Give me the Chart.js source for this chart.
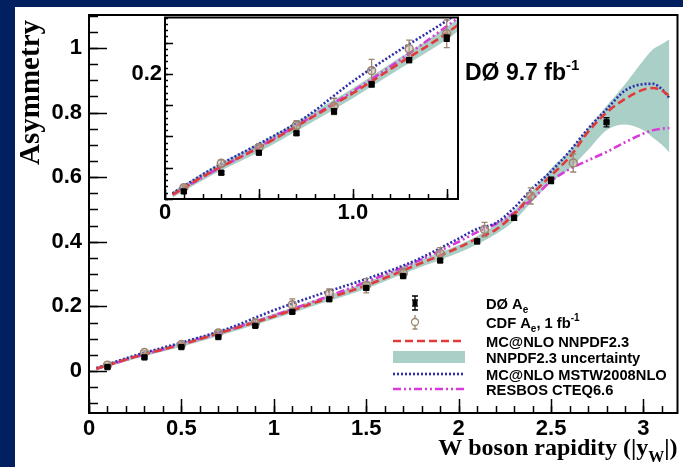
<!DOCTYPE html>
<html>
<head>
<meta charset="utf-8">
<script src="https://cdn.jsdelivr.net/npm/chart.js@4.4.0/dist/chart.umd.min.js"></script>
<style>
  body { margin: 0; background: #02205f; width: 683px; height: 467px; overflow: hidden; }
  #panel { position: absolute; left: 15px; top: 7px; width: 668px; height: 460px; background: #fff; }
  #main { position: absolute; left: 0; top: 0; }
  #inset { position: absolute; left: 95px; top: 5px; }
</style>
</head>
<body>
<div id="panel">
  <canvas id="main" width="668" height="460"></canvas>
  <canvas id="inset" width="355" height="212"></canvas>
</div>
<script>
// D0 electron asymmetry, bin centres in |y_W|
const d0X   = [0.1, 0.3, 0.5, 0.7, 0.9, 1.1, 1.3, 1.5, 1.7, 1.9, 2.1, 2.3, 2.5, 2.8];
const d0Y   = [0.012, 0.042, 0.074, 0.105, 0.140, 0.183, 0.222, 0.257, 0.294, 0.342, 0.401, 0.474, 0.590, 0.770];
const d0Err = [0.003, 0.003, 0.003, 0.003, 0.004, 0.004, 0.004, 0.005, 0.005, 0.006, 0.007, 0.008, 0.010, 0.014];

// CDF 1 fb-1
const cdfX   = [0.1, 0.3, 0.5, 0.7, 0.9, 1.1, 1.3, 1.5, 1.7, 1.9, 2.14, 2.39, 2.62];
const cdfY   = [0.018, 0.057, 0.082, 0.118, 0.148, 0.205, 0.240, 0.264, 0.302, 0.364, 0.438, 0.542, 0.644];
const cdfErr = [0.004, 0.005, 0.006, 0.007, 0.013, 0.018, 0.014, 0.022, 0.016, 0.018, 0.022, 0.025, 0.028];

// theory predictions
const curveX = [0.04, 0.25, 0.5, 0.75, 1.0, 1.25, 1.5, 1.75, 2.0, 2.1, 2.2, 2.3, 2.4, 2.5, 2.6, 2.7, 2.8, 2.9, 3.0, 3.05, 3.1, 3.14];
const nnpdf  = [0.007, 0.044, 0.082, 0.125, 0.169, 0.217, 0.265, 0.323, 0.382, 0.410, 0.437, 0.485, 0.549, 0.605, 0.662, 0.740, 0.800, 0.842, 0.871, 0.876, 0.868, 0.852];
const bandHi = [0.012, 0.050, 0.089, 0.132, 0.177, 0.226, 0.275, 0.334, 0.390, 0.418, 0.452, 0.497, 0.558, 0.627, 0.682, 0.752, 0.820, 0.888, 0.962, 0.995, 1.012, 1.027];
const bandLo = [0.002, 0.038, 0.075, 0.117, 0.161, 0.208, 0.255, 0.312, 0.366, 0.392, 0.423, 0.465, 0.526, 0.584, 0.626, 0.684, 0.745, 0.763, 0.745, 0.723, 0.700, 0.676];
const mstw   = [0.009, 0.048, 0.088, 0.131, 0.188, 0.238, 0.285, 0.338, 0.410, 0.440, 0.458, 0.505, 0.566, 0.618, 0.680, 0.750, 0.810, 0.868, 0.888, 0.889, 0.872, 0.845];
const resbos = [0.007, 0.043, 0.083, 0.126, 0.172, 0.222, 0.276, 0.333, 0.400, 0.430, 0.455, 0.490, 0.533, 0.588, 0.625, 0.652, 0.678, 0.708, 0.735, 0.745, 0.750, 0.752];

// axis labels
const xTicks = [0, 0.5, 1, 1.5, 2, 2.5, 3];
const xTickLabels = ['0', '0.5', '1', '1.5', '2', '2.5', '3'];
const yTicks = [0, 0.2, 0.4, 0.6, 0.8, 1];
const yTickLabels = ['0', '0.2', '0.4', '0.6', '0.8', '1'];
const insetXTicks = [0, 1.0];
const insetXLabels = ['0', '1.0'];
const insetYTicks = [0.2];
const insetYLabels = ['0.2'];

const BAND = '#a9cfc6', RED = '#e23a3a', BLUE = '#2d2dab', MAGENTA = '#d83cd8', CDF = '#9c8570';
const tickFont = { family: 'Liberation Sans', size: 22, weight: 'bold' };

function pts(xs, ys) { return xs.map((x, i) => ({ x: x, y: ys[i] })); }

function curve(ys, color, dash, order) {
  return { data: pts(curveX, ys), showLine: true, pointRadius: 0, borderColor: color, borderWidth: 2.6,
           borderDash: dash, cubicInterpolationMode: 'monotone', fill: false, order: order };
}

function datasets() {
  return [
    { data: pts(curveX, bandHi), showLine: true, pointRadius: 0, borderWidth: 0, fill: '+1',
      backgroundColor: BAND, cubicInterpolationMode: 'monotone', order: 10 },
    { data: pts(curveX, bandLo), showLine: true, pointRadius: 0, borderWidth: 0, fill: false,
      cubicInterpolationMode: 'monotone', order: 10 },
    curve(resbos, MAGENTA, [8, 3, 2, 3, 2, 3], 5),
    curve(mstw, BLUE, [2, 2], 4),
    curve(nnpdf, RED, [8, 4], 3),
    { data: pts(cdfX, cdfY), errors: cdfErr, errColor: CDF, pointStyle: 'circle', pointRadius: 4,
      borderColor: CDF, backgroundColor: 'rgba(190,175,160,0.45)', borderWidth: 1.5, order: 2 },
    { data: pts(d0X, d0Y), errors: d0Err, errColor: '#000', pointStyle: 'rect', pointRadius: 3.7,
      borderColor: '#000', backgroundColor: '#000', borderWidth: 1, order: 1 }
  ];
}

// vertical error bars with caps, drawn under the markers
const errorBars = {
  id: 'errorBars',
  beforeDatasetDraw(chart, args) {
    const ds = chart.data.datasets[args.index];
    if (!ds.errors) return;
    const { ctx, chartArea: a } = chart;
    const ys = chart.scales.y;
    ctx.save();
    ctx.beginPath(); ctx.rect(a.left, a.top, a.right - a.left, a.bottom - a.top); ctx.clip();
    ctx.strokeStyle = ds.errColor; ctx.lineWidth = 1.3;
    args.meta.data.forEach((pt, i) => {
      const v = ds.data[i].y, e = ds.errors[i];
      const t = ys.getPixelForValue(v + e), b = ys.getPixelForValue(v - e);
      ctx.beginPath();
      ctx.moveTo(pt.x, t); ctx.lineTo(pt.x, b);
      ctx.moveTo(pt.x - 3, t); ctx.lineTo(pt.x + 3, t);
      ctx.moveTo(pt.x - 3, b); ctx.lineTo(pt.x + 3, b);
      ctx.stroke();
    });
    ctx.restore();
  }
};

function drawTicks(ctx, scale, a, step, len) {
  const n = Math.floor((scale.max - scale.min) / step + 1e-6) + 2;
  const start = Math.ceil(scale.min / step - 1e-6) * step;
  for (let i = 0; i < n; i++) {
    const v = start + i * step;
    if (v > scale.max + 1e-9) break;
    const p = Math.round(scale.getPixelForValue(v)) + 0.5;
    ctx.beginPath();
    if (scale.axis === 'x') { ctx.moveTo(p, a.bottom); ctx.lineTo(p, a.bottom - len); }
    else { ctx.moveTo(a.left, p); ctx.lineTo(a.left + len, p); }
    ctx.stroke();
  }
}

// box around the plot and tick marks pointing inwards
const frame = {
  id: 'frame',
  beforeDraw(chart) {
    const { ctx, chartArea: a } = chart;
    ctx.save(); ctx.fillStyle = '#fff';
    ctx.fillRect(a.left, a.top, a.right - a.left, a.bottom - a.top);
    ctx.restore();
  },
  afterDraw(chart, args, opts) {
    const { ctx, chartArea: a, scales } = chart;
    ctx.save();
    ctx.strokeStyle = '#000';
    ctx.lineWidth = 1.5;
    opts.ticks.forEach(t => drawTicks(ctx, scales[t.axis], a, t.step, t.len));
    ctx.lineWidth = 2;
    ctx.strokeRect(a.left, a.top, a.right - a.left, a.bottom - a.top);
    ctx.restore();
  }
};

function richText(ctx, x, y, parts, size, family, align) {
  const fontOf = p => 'bold ' + (p.sub || p.sup ? Math.round(size * 0.65) : size) + 'px ' + family;
  let w = 0;
  parts.forEach(p => { ctx.font = fontOf(p); w += ctx.measureText(p.t).width; });
  let cx = align === 'right' ? x - w : x;
  parts.forEach(p => {
    ctx.font = fontOf(p);
    const dy = p.sub ? size * 0.28 : (p.sup ? -size * 0.42 : 0);
    ctx.fillText(p.t, cx, y + dy);
    cx += ctx.measureText(p.t).width;
  });
}

// axis titles, luminosity label and the legend box
const annotations = {
  id: 'annotations',
  afterDraw(chart) {
    const { ctx, chartArea: a } = chart;
    ctx.save();
    ctx.fillStyle = '#000';
    ctx.textBaseline = 'alphabetic';
    ctx.textAlign = 'left';

    richText(ctx, a.right, 448, [{ t: 'W boson rapidity (|y' }, { t: 'W', sub: true }, { t: '|)' }], 24, 'Liberation Serif', 'right');

    ctx.save();
    ctx.translate(24, 13);
    ctx.rotate(-Math.PI / 2);
    ctx.textAlign = 'right';
    ctx.font = 'bold 29px Liberation Serif';
    ctx.fillText('Asymmetry', 0, 0);
    ctx.restore();

    richText(ctx, 450, 73, [{ t: 'D\u00d8 9.7 fb' }, { t: '-1', sup: true }], 23, 'Liberation Sans');

    // legend
    const lx0 = 378, lx1 = 450, mx = 400, tx = 471;
    const rows = [296, 315, 334, 350, 367, 382];
    const fs = 14.7, fam = 'Liberation Sans';

    ctx.strokeStyle = '#000'; ctx.lineWidth = 1.3;
    ctx.beginPath();
    ctx.moveTo(mx, rows[0] - 7); ctx.lineTo(mx, rows[0] + 7);
    [-7, -3, 3, 7].forEach(d => { ctx.moveTo(mx - 3, rows[0] + d); ctx.lineTo(mx + 3, rows[0] + d); });
    ctx.stroke();
    ctx.fillRect(mx - 2.5, rows[0] - 2.5, 5, 5);

    ctx.strokeStyle = CDF;
    ctx.beginPath();
    ctx.moveTo(mx, rows[1] - 7); ctx.lineTo(mx, rows[1] + 7);
    ctx.moveTo(mx - 2.5, rows[1] + 7); ctx.lineTo(mx + 2.5, rows[1] + 7);
    ctx.stroke();
    ctx.beginPath(); ctx.arc(mx, rows[1], 3.5, 0, Math.PI * 2);
    ctx.fillStyle = '#fff'; ctx.fill(); ctx.stroke();

    const sample = (y, color, dash) => {
      ctx.strokeStyle = color; ctx.lineWidth = 2.6; ctx.setLineDash(dash);
      ctx.beginPath(); ctx.moveTo(lx0, y); ctx.lineTo(lx1, y); ctx.stroke();
      ctx.setLineDash([]);
    };
    sample(rows[2], RED, [8, 4]);
    ctx.fillStyle = BAND; ctx.fillRect(lx0, rows[3] - 6, lx1 - lx0, 12);
    sample(rows[4], BLUE, [2, 2]);
    sample(rows[5], MAGENTA, [8, 3, 2, 3, 2, 3]);

    ctx.fillStyle = '#000';
    const labels = [
      [{ t: 'D\u00d8 A' }, { t: 'e', sub: true }],
      [{ t: 'CDF A' }, { t: 'e', sub: true }, { t: ', 1 fb' }, { t: '-1', sup: true }],
      [{ t: 'MC@NLO NNPDF2.3' }],
      [{ t: 'NNPDF2.3 uncertainty' }],
      [{ t: 'MC@NLO MSTW2008NLO' }],
      [{ t: 'RESBOS CTEQ6.6' }]
    ];
    labels.forEach((parts, i) => richText(ctx, tx, rows[i] + 5.5, parts, fs, fam));
    ctx.restore();
  }
};

function axis(min, max, ticks, labels, size, pad, isX) {
  return {
    type: 'linear', min: min, max: max,
    grid: { display: false, drawTicks: false }, border: { display: false },
    ticks: { font: tickFont, color: '#000', padding: pad, autoSkip: false, maxRotation: 0,
             callback: (v, i) => labels[i] },
    afterBuildTicks: s => { s.ticks = ticks.map(v => ({ value: v })); },
    afterFit: s => {
      if (isX) s.height = size; else s.width = size;
      s.paddingLeft = s.paddingRight = s.paddingTop = s.paddingBottom = 0;
    }
  };
}

Chart.defaults.font.family = 'Liberation Sans';

new Chart(document.getElementById('main'), {
  type: 'scatter',
  data: { datasets: datasets() },
  options: {
    responsive: false, animation: false, events: [],
    layout: { padding: { left: 0, top: 8, right: 4, bottom: 0 } },
    scales: {
      x: axis(0, 3.184, xTicks, xTickLabels, 54, 3, true),
      y: axis(-0.13, 1.102, yTicks, yTickLabels, 74, 7, false)
    },
    plugins: {
      legend: { display: false }, tooltip: { enabled: false },
      frame: { ticks: [
        { axis: 'x', step: 0.1, len: 7 }, { axis: 'x', step: 0.5, len: 14 },
        { axis: 'y', step: 0.05, len: 9 }, { axis: 'y', step: 0.2, len: 18 }
      ] }
    }
  },
  plugins: [frame, errorBars, annotations]
});

new Chart(document.getElementById('inset'), {
  type: 'scatter',
  data: { datasets: datasets() },
  options: {
    responsive: false, animation: false, events: [],
    layout: { padding: { left: 0, top: 3, right: 7, bottom: 0 } },
    scales: {
      x: axis(0, 1.56, insetXTicks, insetXLabels, 25, 1, true),
      y: axis(0, 0.29, insetYTicks, insetYLabels, 55, 3, false)
    },
    plugins: {
      legend: { display: false }, tooltip: { enabled: false },
      frame: { ticks: [
        { axis: 'x', step: 0.1, len: 5 }, { axis: 'x', step: 0.5, len: 10 },
        { axis: 'y', step: 0.01, len: 3 }, { axis: 'y', step: 0.05, len: 8 }
      ] }
    }
  },
  plugins: [frame, errorBars]
});
</script>
</body>
</html>
